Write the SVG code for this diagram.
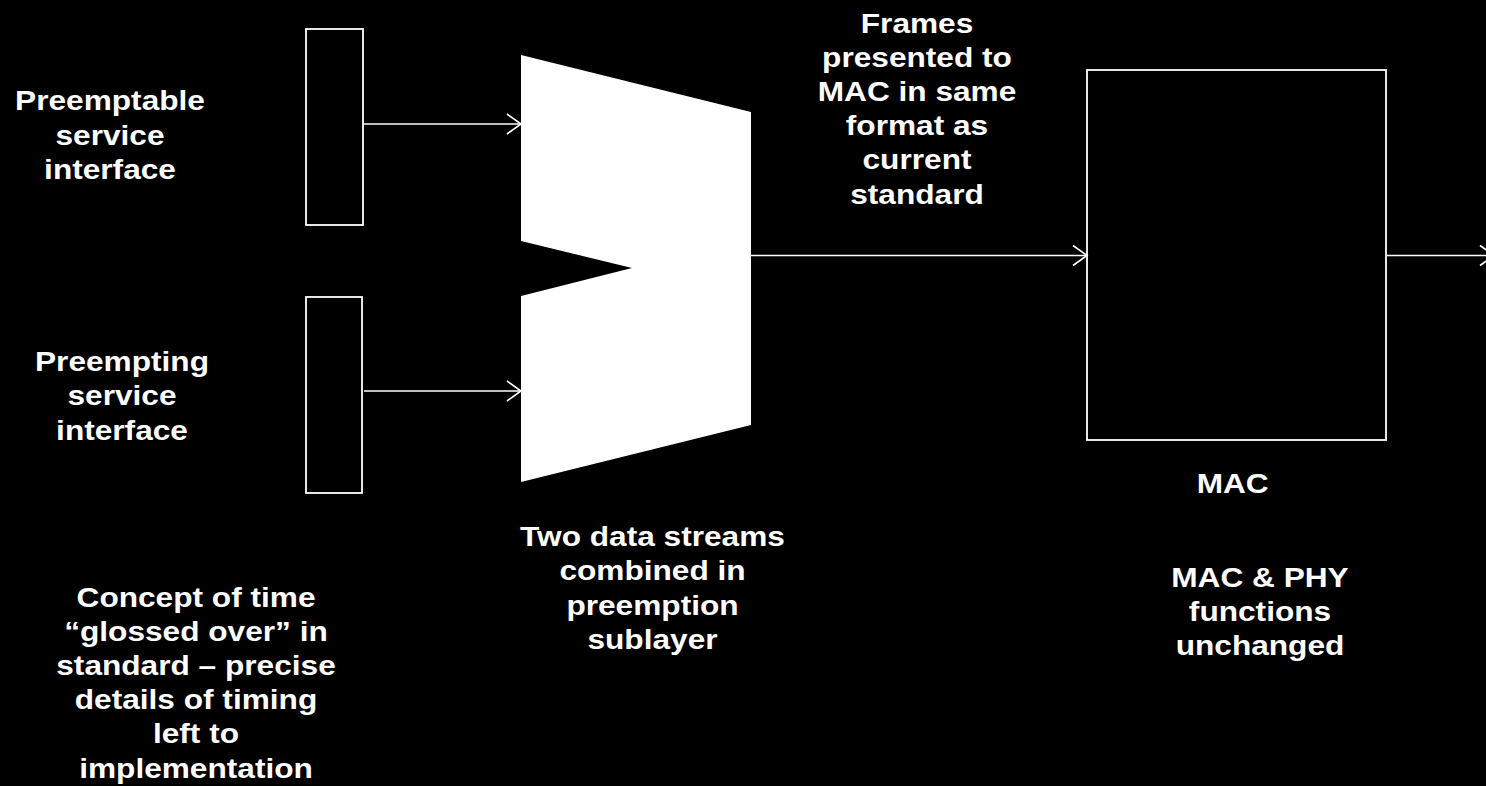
<svg xmlns="http://www.w3.org/2000/svg" width="1486" height="786" viewBox="0 0 1486 786">
<style>
.box{fill:#000;stroke:#fff;stroke-width:1.8}
.lbl{font-family:"Liberation Sans",Arial,sans-serif;font-weight:bold;font-size:28px;fill:#fff;text-anchor:middle}
.conn{stroke:#fff;stroke-width:1.6;fill:none}
</style>
<defs>
<marker id="arr" markerUnits="userSpaceOnUse" markerWidth="20" markerHeight="24" viewBox="-16 -12 20 24" refX="0" refY="0" orient="auto" overflow="visible">
<path d="M-14,-10 L0,0 L-14,10" fill="none" stroke="#fff" stroke-width="1.6"/>
</marker>
</defs>
<rect width="1486" height="786" fill="#000"/>
<g id="preemptable">
<rect class="box" x="306" y="29" width="57" height="196"/>
<g transform="translate(110,0) scale(1.13,1)"><text class="lbl"><tspan x="0" y="110">Preemptable</tspan><tspan x="0" y="145">service</tspan><tspan x="0" y="179.5">interface</tspan></text></g>
</g>
<g id="preempting">
<rect class="box" x="306" y="297" width="56" height="196"/>
<g transform="translate(122,0) scale(1.13,1)"><text class="lbl"><tspan x="0" y="371.5">Preempting</tspan><tspan x="0" y="405.5">service</tspan><tspan x="0" y="440">interface</tspan></text></g>
</g>
<g id="sublayer">
<polygon points="521,55 751,112 751,425 521,482 521,296 632,268 521,241" fill="#fff"/>
<g transform="translate(652.5,0) scale(1.13,1)"><text class="lbl"><tspan x="0" y="546">Two data streams</tspan><tspan x="0" y="580.3">combined in</tspan><tspan x="0" y="614.6">preemption</tspan><tspan x="0" y="649">sublayer</tspan></text></g>
</g>
<g id="frames-note">
<g transform="translate(917,0) scale(1.13,1)"><text class="lbl"><tspan x="0" y="32.7">Frames</tspan><tspan x="0" y="66.9">presented to</tspan><tspan x="0" y="101.1">MAC in same</tspan><tspan x="0" y="135.3">format as</tspan><tspan x="0" y="169.5">current</tspan><tspan x="0" y="203.7">standard</tspan></text></g>
</g>
<g id="mac">
<rect class="box" x="1087" y="70" width="299" height="370"/>
<g transform="translate(1232.7,0) scale(1.13,1)"><text class="lbl"><tspan x="0" y="493.3">MAC</tspan></text></g>
<g transform="translate(1260,0) scale(1.13,1)"><text class="lbl"><tspan x="0" y="586.7">MAC &amp; PHY</tspan><tspan x="0" y="621">functions</tspan><tspan x="0" y="655.2">unchanged</tspan></text></g>
</g>
<g id="timing-note">
<g transform="translate(196,0) scale(1.13,1)"><text class="lbl"><tspan x="0" y="606.7">Concept of time</tspan><tspan x="0" y="640.9">“glossed over” in</tspan><tspan x="0" y="675.1">standard – precise</tspan><tspan x="0" y="709.3">details of timing</tspan><tspan x="0" y="743.5">left to</tspan><tspan x="0" y="777.7">implementation</tspan></text></g>
</g>
<g id="connectors">
<line class="conn" x1="364" y1="124" x2="521" y2="124" marker-end="url(#arr)"/>
<line class="conn" x1="364" y1="391" x2="521" y2="391" marker-end="url(#arr)"/>
<line class="conn" x1="751" y1="255.5" x2="1087" y2="255.5" marker-end="url(#arr)"/>
<line class="conn" x1="1387" y1="255.5" x2="1494" y2="255.5" marker-end="url(#arr)"/>
</g>
</svg>
